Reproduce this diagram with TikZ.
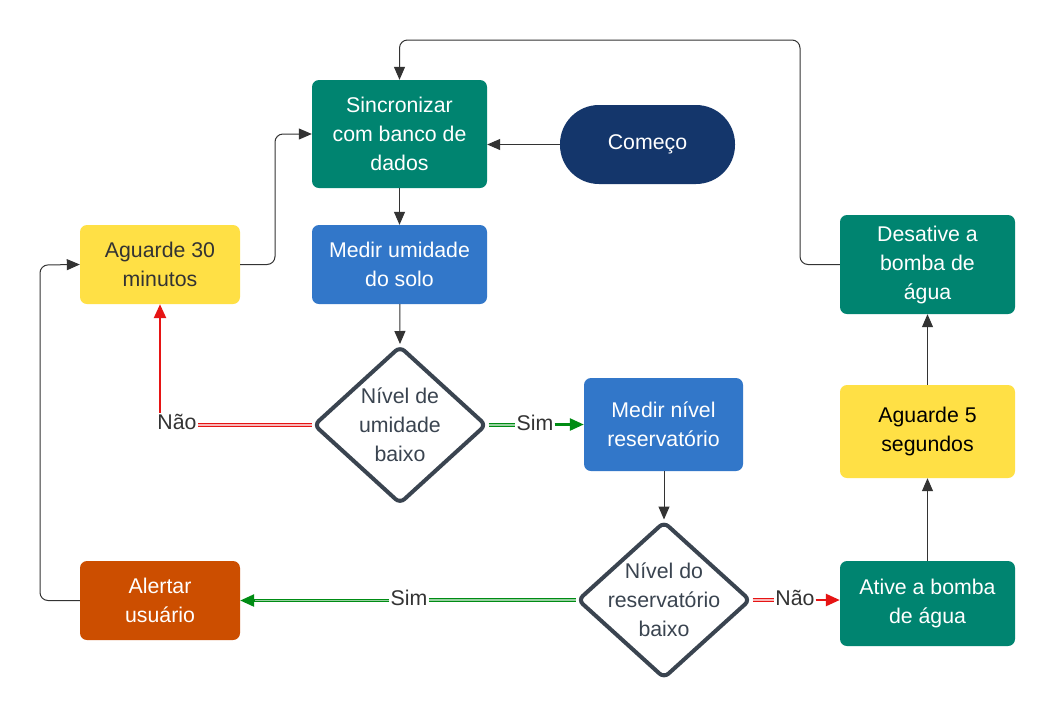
\documentclass[tikz,border=0pt]{standalone}
\usepackage{fontspec}
\setmainfont{Liberation Sans}
\usetikzlibrary{shapes.geometric,arrows.meta}
\definecolor{teal1}{RGB}{0,132,112}
\definecolor{navy1}{RGB}{20,54,107}
\definecolor{blue1}{RGB}{50,119,201}
\definecolor{yel1}{RGB}{255,224,69}
\definecolor{org1}{RGB}{204,78,0}
\definecolor{dia1}{RGB}{58,68,80}
\definecolor{arr1}{RGB}{51,51,51}
\definecolor{red1}{RGB}{230,20,20}
\definecolor{grn1}{RGB}{0,140,20}
\begin{document}
\begin{tikzpicture}[x=1pt,y=-1pt,
  every node/.style={font=\fontsize{21.3}{29}\selectfont, align=center},
  box/.style={rectangle, rounded corners=7pt, inner sep=0pt, text=white},
  ybox/.style={box, fill=yel1, text=arr1},
  dia/.style={diamond, draw=dia1, line width=4pt, rounded corners=6pt, fill=white, inner sep=0pt},
  dtext/.style={text=dia1, inner sep=0pt},
  con/.style={draw=arr1, line width=1pt, -{Triangle[length=13pt,width=11pt]}},
  rcon/.style={draw=red1, line width=1.2pt, double=red1!30!white, double distance=1.2pt},
  gcon/.style={draw=grn1, line width=1.2pt, double=grn1!40!white, double distance=1.2pt},
  rarr/.style={red1, line width=2.5pt, -{Triangle[length=14pt,width=12pt]}},
  garr/.style={grn1, line width=2.5pt, -{Triangle[length=14pt,width=12pt]}},
  lbl/.style={fill=white, inner sep=1pt, text=arr1}
]
\useasboundingbox (0,0) rectangle (1055,721);
\fill[white] (0,0) rectangle (1055,721);

\node[box, fill=teal1, minimum width=175pt, minimum height=108pt] (sync) at (399.5,134) {Sincronizar\\com banco de\\dados};
\node[box, fill=navy1, rounded corners=39pt, minimum width=175pt, minimum height=79pt] (start) at (647.5,144.5) {Começo};
\node[box, fill=blue1, minimum width=175pt, minimum height=79pt] (solo) at (399.5,264.5) {Medir umidade\\do solo};
\node[ybox, minimum width=160pt, minimum height=79pt] (w30) at (160,264.5) {Aguarde 30\\minutos};
\node[dia, minimum width=173pt, minimum height=158pt] (d1) at (400,425) {};
\node[dtext] (d1t) at (d1.center) {Nível de\\umidade\\baixo};
\node[box, fill=blue1, minimum width=159pt, minimum height=93pt] (res) at (663.5,424.5) {Medir nível\\reservatório};
\node[dia, minimum width=173pt, minimum height=157pt] (d2) at (664,600) {};
\node[dtext] (d2t) at (d2.center) {Nível do\\reservatório\\baixo};
\node[box, fill=org1, minimum width=160pt, minimum height=79pt] (alert) at (160,600.5) {Alertar\\usuário};
\node[box, fill=teal1, minimum width=175pt, minimum height=85pt] (on) at (927.5,603.5) {Ative a bomba\\de água};
\node[ybox, minimum width=175pt, minimum height=93pt, text=black] (w5) at (927.5,431.5) {Aguarde 5\\segundos};
\node[box, fill=teal1, minimum width=175pt, minimum height=99pt] (off) at (927.5,264.5) {Desative a\\bomba de\\água};

\draw[con] (start.west) -- (sync.east |- start.west);
\draw[con] (sync) -- (solo);
\draw[con] (solo) -- (d1.north);
\draw[con] (res.south -| d2.north) -- (d2.north);
\draw[con] (on) -- (w5);
\draw[con] (w5) -- (off);

\coordinate (c1) at (800,40);
\draw[con, rounded corners=8pt] (off.west) -| (c1) -| (sync.north);
\coordinate (c2) at (40,265);
\draw[con, rounded corners=8pt] (alert.west) -| (c2) -- (w30.west);
\coordinate (c3) at (275,134);
\draw[con, rounded corners=8pt] (w30.east) -| (c3) -- (sync.west);

% Nao (d1)
\node[lbl] (n1) at (177,422) {Não};
\draw[rcon] (d1.west) -- (n1.east |- d1.west);
\draw[rarr] (n1.north -| w30.south) -- (w30.south);
% Sim (d1)
\node[lbl] (s1) at (535,423) {Sim};
\draw[gcon] (d1.east) -- (s1.west |- d1.east);
\draw[garr] (s1.east |- res.west) -- (res.west);
% Sim (d2)
\node[lbl] (s2) at (409,598) {Sim};
\draw[gcon] (d2.west) -- (s2.east |- d2.west);
\draw[gcon] (s2.west |- alert.east) -- ([xshift=14pt]alert.east);
\draw[garr] ([xshift=15pt]alert.east) -- (alert.east);
% Nao (d2)
\node[lbl] (n2) at (795,598) {Não};
\draw[rcon] (d2.east) -- (n2.west |- d2.east);
\draw[rarr] (n2.east |- d2.east) -- (on.west |- d2.east);
\end{tikzpicture}
\end{document}
